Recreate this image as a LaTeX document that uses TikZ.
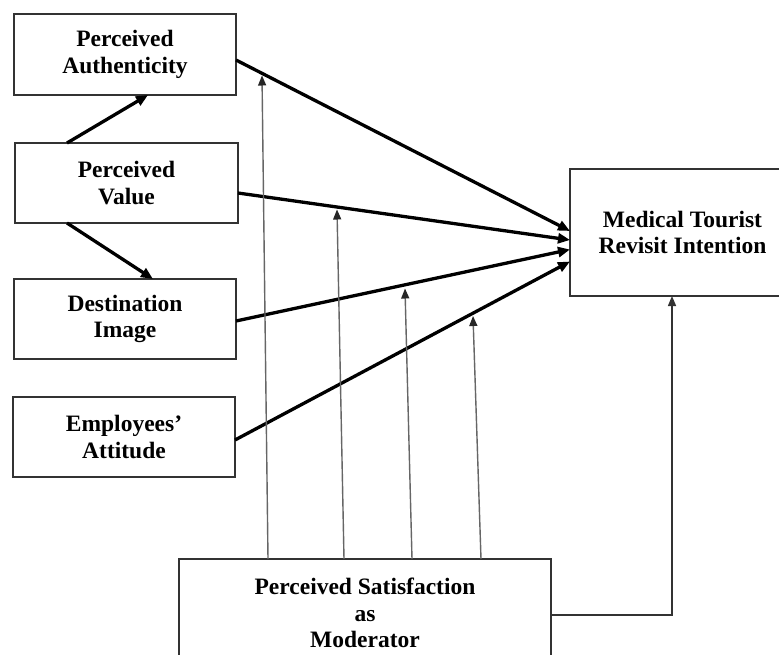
\documentclass[tikz,border=0pt]{standalone}
\usepackage{fontspec}
\setmainfont{Liberation Serif}
\usetikzlibrary{arrows.meta,calc}
\begin{document}
\begin{tikzpicture}[x=1pt,y=-1pt,
  box/.style={draw=black!80,line width=1.2pt,inner sep=0pt,outer sep=0pt,align=center,
    font=\fontsize{23.5}{26.8}\selectfont\bfseries},
  thick arrow/.style={line width=3.3pt,-{Triangle[length=12pt,width=10pt]}},
  mod arrow/.style={draw=black!60,line width=1.4pt,-{Triangle[length=10pt,width=8pt,color=black!85]}},
  link arrow/.style={draw=black!80,line width=1.5pt,-{Triangle[length=10pt,width=8pt]}}]
\clip (0,0) rectangle (779,655);
\fill[white] (0,0) rectangle (779,655);

\node[box,minimum width=222pt,minimum height=81pt] (pa) at (125,54.5) {Perceived\\Authenticity};
\node[box,minimum width=223pt,minimum height=80pt] (pv) at (126.5,183) {Perceived\\Value};
\node[box,minimum width=222pt,minimum height=80pt] (di) at (125,319) {Destination\\Image};
\node[box,minimum width=222pt,minimum height=80pt] (ea) at (124,437) {Employees'\\Attitude};
\node[box,minimum width=225pt,minimum height=127pt] (mt) at (682.5,232.5) {Medical Tourist\\Revisit Intention};
\node[box,minimum width=372pt,minimum height=108pt] (ms) at (365,613) {Perceived Satisfaction\\as\\Moderator};

% arrows among predictors
\draw[thick arrow] ([xshift=52pt]pv.north west) -- ([xshift=134pt]pa.south west);
\draw[thick arrow] ([xshift=52pt]pv.south west) -- ([xshift=139pt]di.north west);

% predictors to outcome
\draw[thick arrow] ([yshift=-5.5pt]pa.east) -- ([yshift=1.5pt]mt.west);
\draw[thick arrow] ([yshift=-10pt]pv.east) -- ([yshift=-7.5pt]mt.west);
\draw[thick arrow] ([yshift=-2pt]di.east) -- ([yshift=-17pt]mt.west);
\draw[thick arrow] ([yshift=-3pt]ea.east) -- ([yshift=-29pt]mt.west);

% moderator arrows
\coordinate (t1) at (262,75.5);
\coordinate (t2) at (337,209.5);
\coordinate (t3) at (405,288.5);
\coordinate (t4) at (473,316);
\draw[mod arrow] ([xshift=89pt]ms.north west) -- (t1);
\draw[mod arrow] ([xshift=165pt]ms.north west) -- (t2);
\draw[mod arrow] ([xshift=233pt]ms.north west) -- (t3);
\draw[mod arrow] ([xshift=302pt]ms.north west) -- (t4);

% moderator to outcome
\draw[link arrow] ([yshift=-2pt]ms.east) -| ([xshift=-10.5pt]mt.south);
\end{tikzpicture}
\end{document}
